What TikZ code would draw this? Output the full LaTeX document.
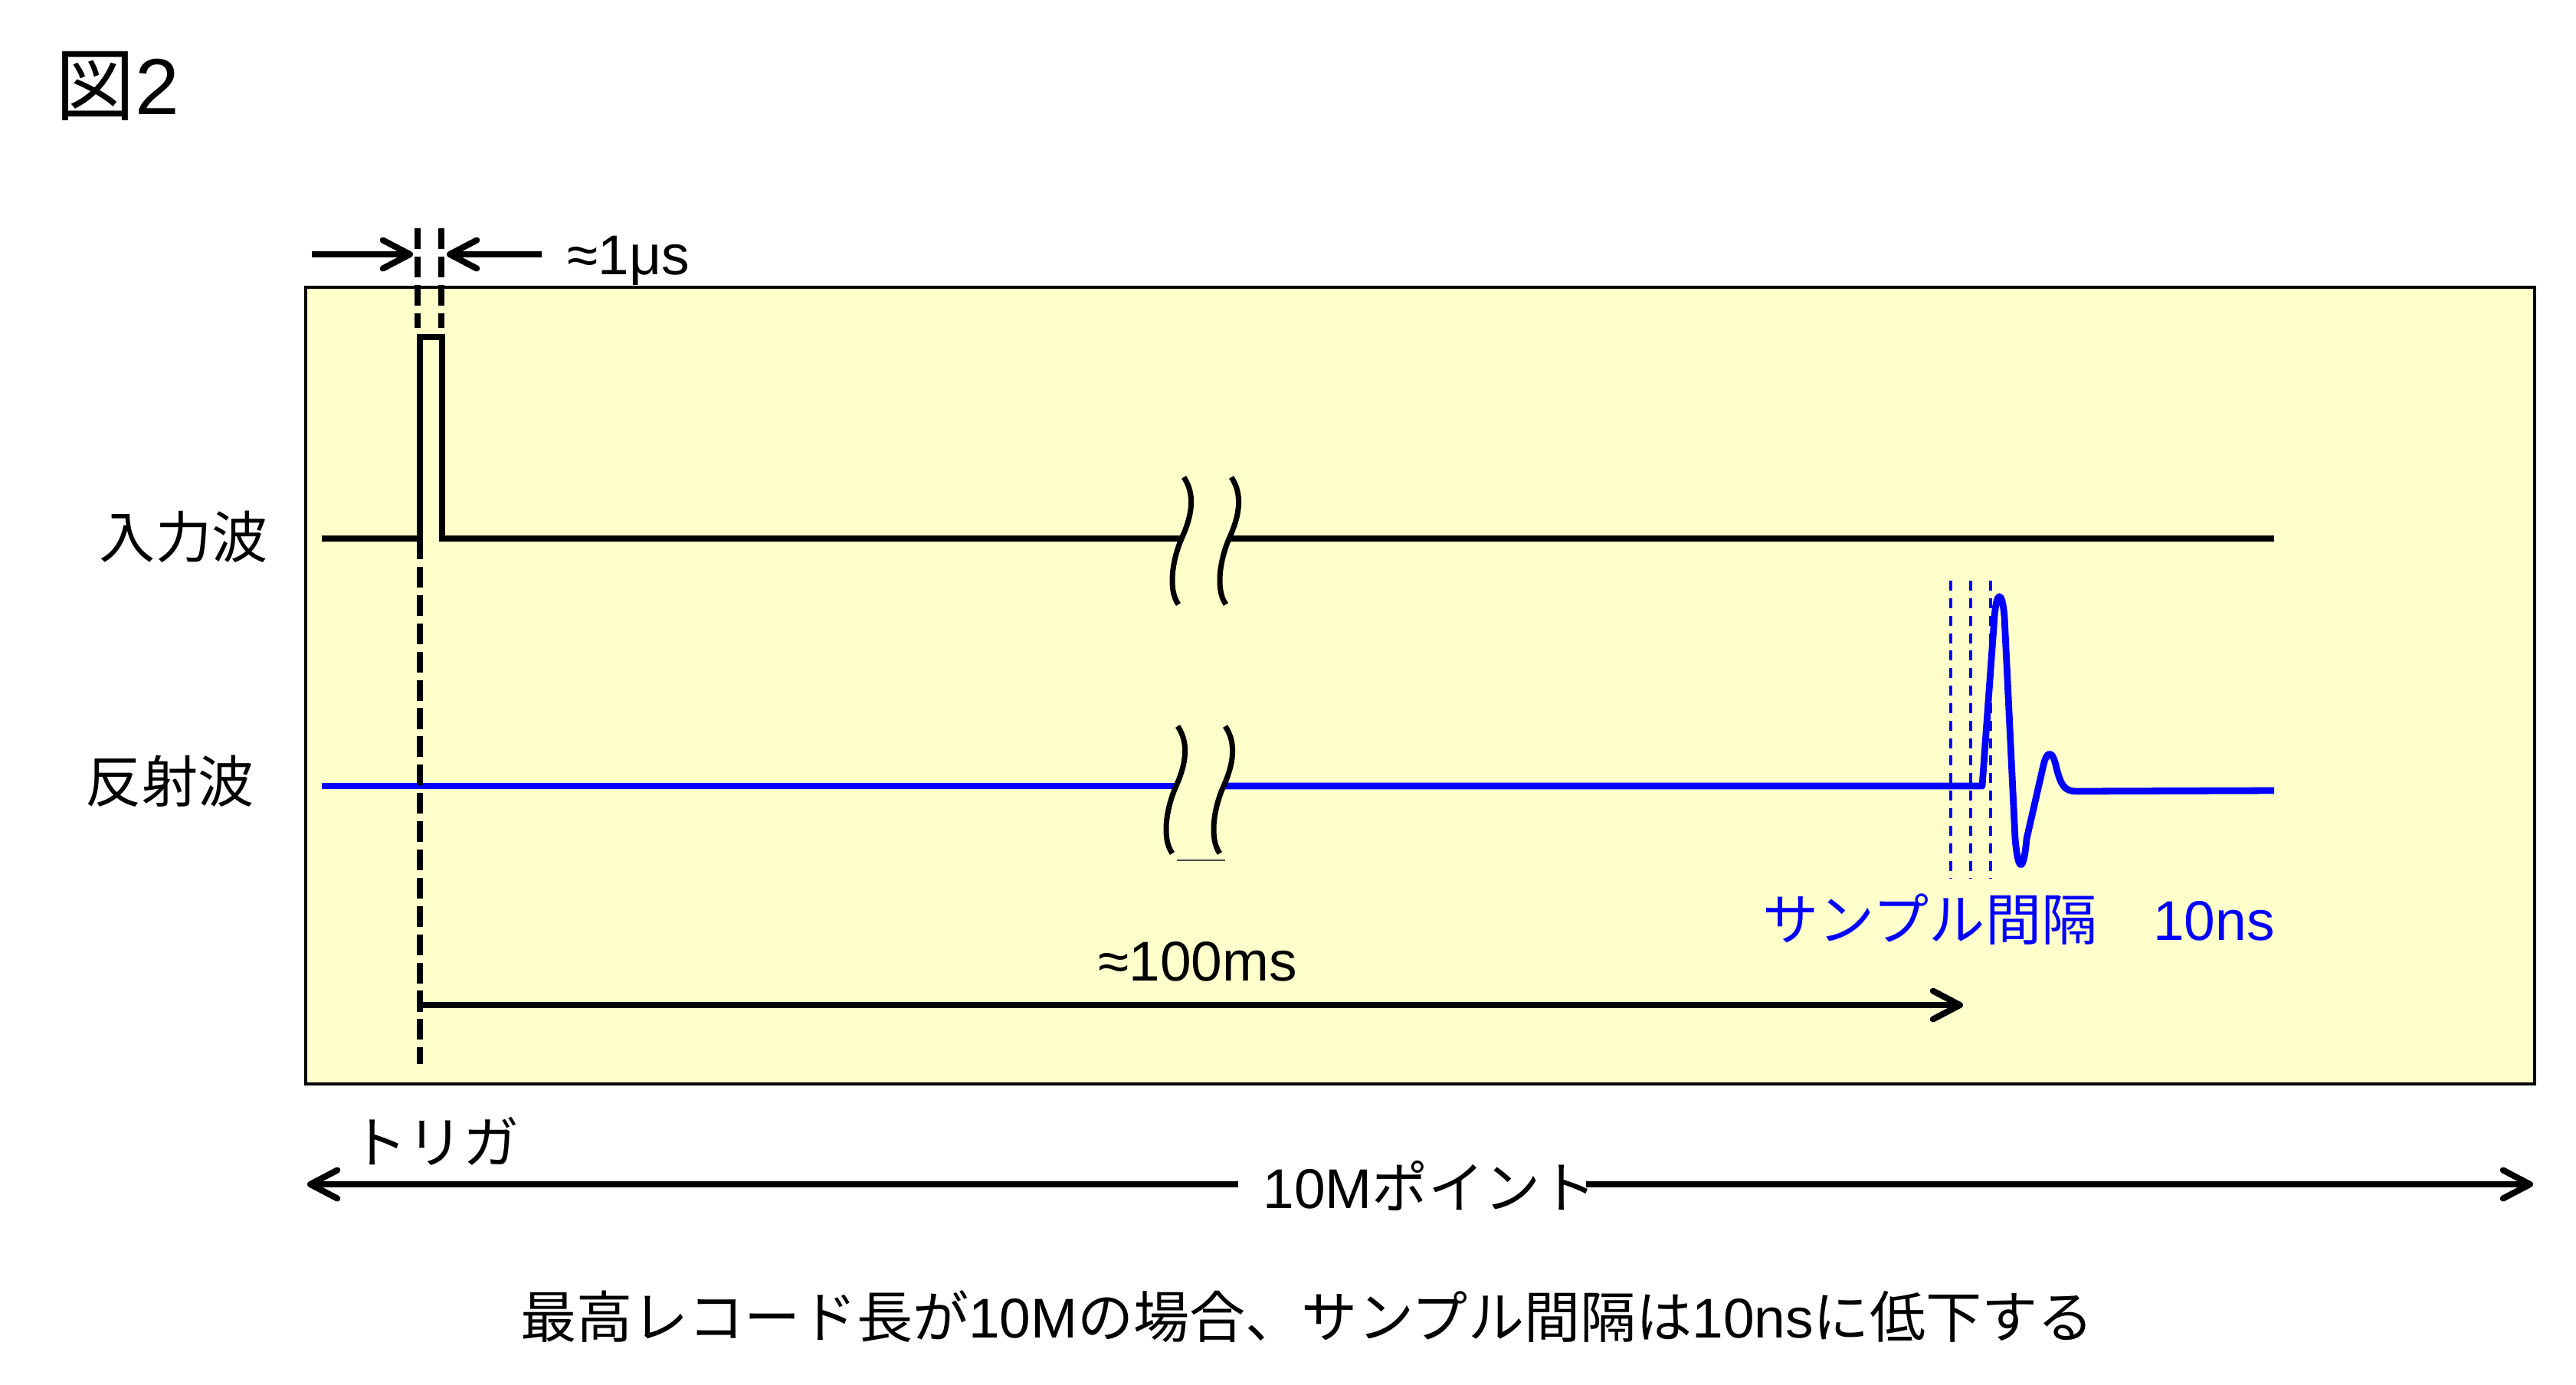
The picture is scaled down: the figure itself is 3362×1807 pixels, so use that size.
\documentclass[tikz,border=0pt]{standalone}
\usepackage{fontspec}
\setmainfont{Liberation Sans}
\newfontfamily\jp{Noto Sans CJK JP}
\usetikzlibrary{arrows.meta}
\definecolor{boxyellow}{HTML}{FFFFCC}
\begin{document}
\begin{tikzpicture}[x=0.1mm,y=-0.1mm,
  txt/.style={inner sep=0pt, font=\fontsize{20.8}{24}\selectfont},
  wave/.style={line width=2.3pt, line join=miter},
  bluewave/.style={line width=2.5pt, draw=blue, line join=round},
  brk/.style={line width=2pt},
  trig/.style={line width=2.3pt, dash pattern=on 7.7pt off 2.8pt},
  sdash/.style={draw=blue, line width=1.15pt, dash pattern=on 3.7pt off 2.8pt},
  barb/.tip={Straight Barb[length=10pt,width=10.5pt,line cap=round,line join=round]},
  dimarrow/.style={line width=2.3pt, -barb},
  bigarrow/.style={line width=2.3pt}
]
\useasboundingbox (0,0) rectangle (3362,1807);
% title
\node[anchor=base west, inner sep=0pt, font=\fontsize{29.5}{32}\selectfont] (title) at (72,149) {{\jp 図}2};
% frame
\draw[fill=boxyellow, line width=1.4pt] (399,375) rectangle (3308,1415);
% coordinates of the input wave
\coordinate (inL) at (420,703);
\coordinate (p1) at (548,703);
\coordinate (p2) at (548,440);
\coordinate (p3) at (577,440);
\coordinate (p4) at (577,703);
\coordinate (bA) at (1543,703);
\coordinate (bB) at (1605,703);
\coordinate (inR) at (2968,703);
\draw[wave] (inL) -- (p1) -- (p2) -- (p3) -- (p4) -- (bA);
\draw[wave] (bB) -- (inR);
% break marks (input)
\draw[brk] (1545,623) .. controls (1560,645) and (1556,672) .. (1543,701) .. controls (1530,730) and (1524,770) .. (1538,789);
\draw[brk] (1607,623) .. controls (1622,645) and (1618,672) .. (1605,701) .. controls (1592,730) and (1586,770) .. (1600,789);
% reflected wave
\coordinate (rL) at (420,1026);
\coordinate (rA) at (1535,1026);
\coordinate (rB) at (1597,1026);
\coordinate (r0) at (2587,1026);
\coordinate (rE) at (2968,1032);
\draw[bluewave] (rL) -- (rA);
\draw[bluewave] (rB) -- (r0) -- (2603,805)
  .. controls (2606,770) and (2613,770) .. (2616,805)
  -- (2630,1095)
  .. controls (2634,1140) and (2641,1140) .. (2645,1095)
  -- (2666,1003)
  .. controls (2671,978) and (2679,978) .. (2684,1003)
  .. controls (2690,1026) and (2695,1033) .. (2710,1033) -- (rE);
% break marks (reflected)
\draw[brk] (1537,948) .. controls (1552,970) and (1548,997) .. (1535,1026) .. controls (1522,1055) and (1516,1095) .. (1530,1114);
\draw[brk] (1599,948) .. controls (1614,970) and (1610,997) .. (1597,1026) .. controls (1584,1055) and (1578,1095) .. (1592,1114);
\draw[line width=0.5pt, black!70] (1536,1123) -- (1599,1123);
% labels
\node[txt, anchor=base east] (lin) at (350,728) {\jp 入力波};
\node[txt, anchor=base east] (lref) at (332,1047) {\jp 反射波};
% 1 us marker
\coordinate (d1t) at (545,298);
\coordinate (d1b) at (545,428);
\coordinate (d2t) at (576,298);
\coordinate (d2b) at (576,428);
\draw[trig] (d1t) -- (d1b);
\draw[trig] (d2t) -- (d2b);
\coordinate (a1s) at (407,332);
\coordinate (a1e) at (539,332);
\coordinate (a2s) at (707,332);
\coordinate (a2e) at (583,332);
\draw[dimarrow] (a1s) -- (a1e);
\draw[dimarrow] (a2s) -- (a2e);
\node[txt, anchor=base west] (us) at (740,358) {≈1μs};
% trigger line
\coordinate (trB) at (548,1389);
\draw[trig] (p1) -- (trB);
% 100 ms arrow
\coordinate (m1) at (548,1312);
\coordinate (m2) at (2562,1312);
\draw[dimarrow] (m1) -- (m2);
\node[txt, anchor=base] (ms) at (1563,1280) {≈100ms};
% sample interval
\foreach \xx/\nn in {2546/s1,2572/s2,2598/s3}{
  \coordinate (\nn t) at (\xx,758);
  \coordinate (\nn b) at (\xx,1147);
  \draw[sdash] (\nn t) -- (\nn b);
}
\node[txt, anchor=base west, text=blue] (samp) at (2300,1227) {{\jp サンプル間隔　}10ns};
% trigger label
\node[txt, anchor=base] (trg) at (568,1518) {\jp トリガ};
% 10M points arrow
\node[txt, anchor=base] (pts) at (1866,1577) {10M{\jp ポイント}};
\coordinate (pL) at (401,1546);
\coordinate (pR) at (3306,1546);
\draw[bigarrow, barb-] (pL) -- ([xshift=-9pt]pts.west |- pL);
\draw[bigarrow, -barb] ([xshift=-4pt]pts.east |- pR) -- (pR);
% caption
\node[txt, anchor=base] (cap) at (1706,1746) {{\jp 最高レコード長が}10M{\jp の場合、サンプル間隔は}10ns{\jp に低下する}};
\end{tikzpicture}
\end{document}
